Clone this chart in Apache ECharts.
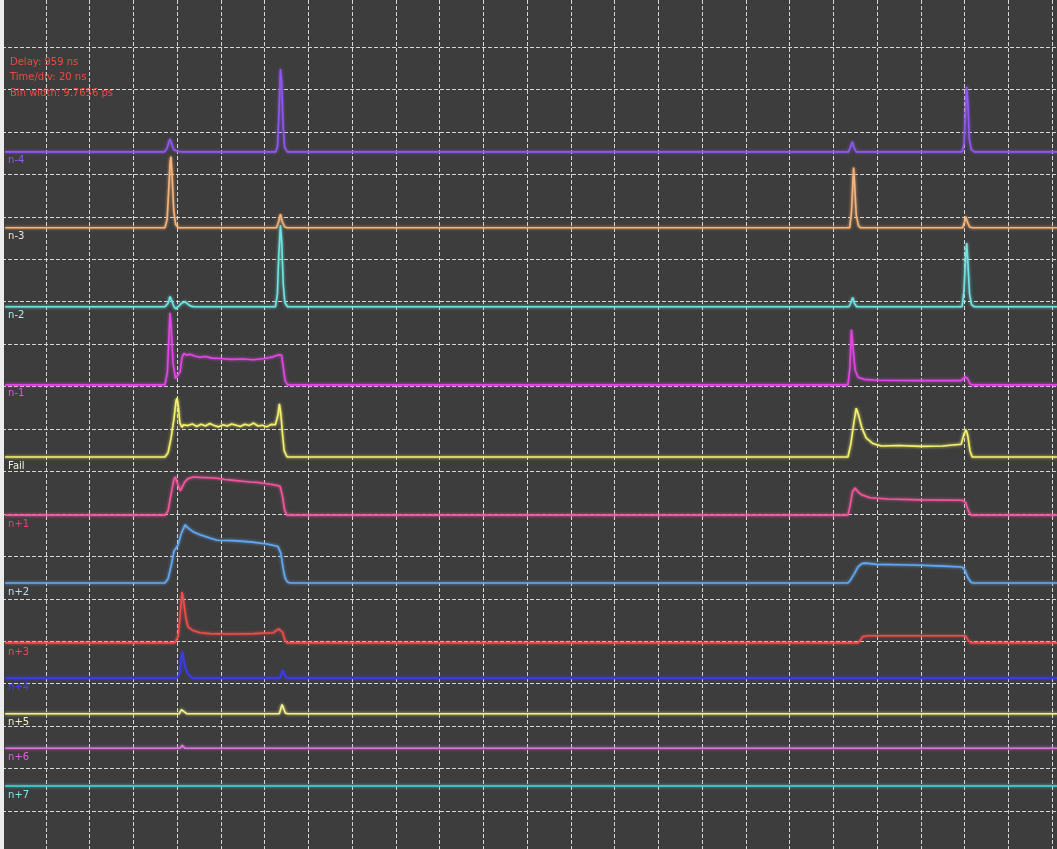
<!DOCTYPE html>
<html><head><meta charset="utf-8">
<script src="https://cdn.jsdelivr.net/npm/echarts@6/dist/echarts.min.js"></script>
<style>html,body{margin:0;padding:0;background:#fff}#c{width:1057px;height:849px}</style>
</head><body><div id="c"></div><script>
// ---- data (time in ns, amplitude in divisions above each channel's baseline) ----
const channelNames   = ['n-4','n-3','n-2','n-1','Fail','n+1','n+2','n+3','n+4','n+5','n+6','n+7'];
const channelOffsets = [15.53, 13.74, 11.88, 10.04, 8.34, 6.97, 5.37, 3.96, 3.13, 2.29, 1.48, 0.59];
const channelColors  = ['#9057f0','#f7b277','#6fe3e0','#e245e6','#f2f06e','#f2559e','#62a8f2','#f24b4b','#3b3bf0','#f2f08a','#e072e6','#45d6d6'];
const labelColors    = ['#8b5fe0','#f2e2d2','#a8eeee','#e055e0','#f2f2e4','#e2457a','#c4dcf2','#e25252','#4444e6','#f2f2c4','#d866d8','#88e4e4'];
const infoLines = ['Delay: 959 ns', 'Time/div: 20 ns', 'Bin width: 9.7656 ps'];
const timeStart = -18.6, timeEnd = 462.3;

const shapeN4 = [[-18.6,0],[54.3,0],[55.4,0.08],[56.2,0.22],[56.8,0.3],[57.5,0.2],[58.5,0.05],[59.8,0.02],[61.5,0],
  [105.2,0],[106.0,0.15],[106.6,0.9],[107.3,1.95],[107.9,1.6],[108.5,0.6],[109.2,0.1],[110.5,0],
  [367.0,0],[367.9,0.12],[368.7,0.24],[369.5,0.1],[370.5,0],
  [419.0,0],[419.8,0.2],[420.4,0.9],[421.0,1.53],[421.6,1.1],[422.2,0.3],[423.1,0.05],[424.5,0],[timeEnd,0]];
const shapeN3 = [[-18.6,0],[54.5,0],[55.5,0.2],[56.2,0.9],[56.8,1.5],[57.2,1.68],[57.8,1.2],[58.5,0.4],[59.4,0.08],[60.5,0],
  [105.5,0],[106.5,0.15],[107.3,0.32],[108.1,0.15],[109.2,0.02],[110.3,0],
  [367.5,0],[368.3,0.35],[368.9,1.0],[369.3,1.42],[369.8,1.0],[370.5,0.3],[371.5,0.05],[372.5,0],
  [419.2,0],[420.0,0.14],[420.6,0.26],[421.3,0.14],[422.3,0.02],[423.5,0],[timeEnd,0]];
const shapeN2 = [[-18.6,0],[54.5,0],[55.9,0.08],[56.8,0.24],[57.6,0.15],[58.6,0.0],[59.5,-0.05],[60.5,0.0],[62.0,0.08],[63.7,0.12],[65.0,0.06],[66.5,0.01],[68.0,0],
  [105.0,0],[105.9,0.3],[106.5,1.2],[107.3,1.92],[107.9,1.5],[108.6,0.5],[109.3,0.1],[110.5,0],
  [367.2,0],[368.1,0.1],[368.9,0.22],[369.7,0.08],[370.7,0],
  [418.9,0],[419.8,0.4],[420.4,1.1],[421.0,1.5],[421.6,1.0],[422.3,0.3],[423.2,0.05],[424.5,0],[timeEnd,0]];
const shapeN1 = [[-18.6,0],[54.5,0],[55.6,0.3],[56.2,1.0],[56.8,1.7],[57.4,1.3],[58.2,0.5],[59.3,0.15],[60.2,0.12],[61.4,0.3],[62.3,0.65],[63.2,0.74],
  [64.5,0.70],[66.0,0.72],[68.0,0.68],[70.5,0.65],[73.0,0.67],[76.0,0.63],[80.0,0.62],[85.0,0.60],[90.0,0.61],[95.0,0.59],[100.0,0.62],[104.0,0.66],[106.5,0.71],[107.8,0.70],
  [108.6,0.4],[109.4,0.1],[110.5,0],
  [366.7,0],[367.6,0.4],[368.3,1.3],[369.0,0.9],[370.0,0.35],[371.3,0.18],[374.0,0.13],[380.0,0.11],[400.0,0.1],[418.5,0.1],[420.2,0.19],[421.4,0.15],[422.5,0.02],[423.5,0],[timeEnd,0]];
const shapeFail = [[-18.6,0],[54.5,0],[55.9,0.1],[57.3,0.45],[58.6,0.9],[59.5,1.3],[60.0,1.39],[60.6,1.2],[61.3,0.8],[62.3,0.7],
  [63.0,0.76],[65.0,0.74],[67.0,0.78],[69.0,0.72],[71.0,0.77],[73.0,0.73],[75.0,0.79],[77.0,0.74],[79.0,0.71],[81.0,0.76],[83.0,0.73],
  [85.0,0.78],[87.0,0.75],[89.0,0.72],[91.0,0.77],[93.0,0.74],[95.0,0.80],[97.0,0.73],[99.0,0.75],[101.0,0.71],[103.0,0.77],[105.0,0.76],
  [106.2,1.0],[106.8,1.25],[107.5,1.0],[108.3,0.5],[109.0,0.15],[110.3,0],
  [366.7,0],[368.0,0.3],[369.4,0.8],[370.5,1.15],[371.5,1.0],[373.0,0.7],[375.0,0.45],[378.0,0.32],[382.0,0.26],[390.0,0.27],[400.0,0.25],[410.0,0.26],
  [418.5,0.3],[419.8,0.55],[420.7,0.64],[421.5,0.5],[422.5,0.15],[423.5,0],[timeEnd,0]];
const shapeP1 = [[-18.6,0],[54.5,0],[55.9,0.1],[57.3,0.5],[58.6,0.85],[59.3,0.9],[60.2,0.75],[61.5,0.57],[62.3,0.6],[63.5,0.78],[65.0,0.86],[67.3,0.9],
  [70.5,0.89],[75.0,0.88],[78.3,0.87],[82.0,0.84],[86.0,0.82],[90.0,0.80],[93.4,0.78],[97.0,0.77],[101.0,0.74],[104.8,0.71],[107.1,0.68],[108.2,0.45],[109.2,0.12],[110.3,0],
  [366.7,0],[367.6,0.2],[368.8,0.55],[370.0,0.64],[371.3,0.55],[373.0,0.48],[376.8,0.41],[385.0,0.38],[400.0,0.36],[418.9,0.35],[420.5,0.3],[421.8,0.1],[423.0,0],[timeEnd,0]];
const shapeP2 = [[-18.6,0],[54.5,0],[55.9,0.1],[57.3,0.4],[58.6,0.75],[60.5,0.9],[61.8,1.15],[63.7,1.37],[65.0,1.3],[67.3,1.21],[70.5,1.14],[75.0,1.06],[78.3,1.01],
  [85.6,1.0],[93.4,0.97],[101.1,0.92],[104.8,0.88],[106.2,0.86],[107.5,0.7],[108.5,0.35],[109.4,0.12],[110.5,0.02],[112.0,0],
  [366.7,0],[367.6,0.05],[369.4,0.2],[371.3,0.38],[373.1,0.46],[374.5,0.47],[380.0,0.44],[390.0,0.43],[400.0,0.42],[410.0,0.40],[418.9,0.38],[420.2,0.3],[421.6,0.12],[423.0,0.02],[424.0,0],[timeEnd,0]];
const shapeP3 = [[-18.6,0],[59.0,0],[60.5,0.15],[61.5,0.7],[62.3,1.2],[63.0,1.0],[64.0,0.6],[65.0,0.38],[67.0,0.3],[70.5,0.24],[75.0,0.22],[85.0,0.21],[95.0,0.22],[104.0,0.24],
  [106.5,0.33],[107.4,0.35],[108.3,0.25],[109.2,0.08],[110.3,0],
  [371.5,0],[373.5,0.15],[376.0,0.17],[400.0,0.17],[420.5,0.17],[421.8,0.05],[423.0,0],[timeEnd,0]];
const shapeP4 = [[-18.6,0],[60.0,0],[61.2,0.1],[61.8,0.4],[62.4,0.63],[63.0,0.45],[64.0,0.2],[65.5,0.07],[67.0,0],[107.0,0],[107.8,0.12],[108.3,0.19],[109.0,0.1],[110.0,0],[timeEnd,0]];
const shapeP5 = [[-18.6,0],[61.0,0],[62.0,0.1],[62.4,0.12],[63.2,0.05],[64.5,0],[106.8,0],[107.6,0.15],[108.0,0.22],[108.6,0.15],[109.5,0.02],[110.5,0],[timeEnd,0]];
const shapeP6 = [[-18.6,0],[61.5,0],[62.4,0.07],[63.5,0],[timeEnd,0]];
const shapeP7 = [[-18.6,0],[timeEnd,0]];
const channelShapes = [shapeN4, shapeN3, shapeN2, shapeN1, shapeFail, shapeP1, shapeP2, shapeP3, shapeP4, shapeP5, shapeP6, shapeP7];

// ---- chart ----
const chart = echarts.init(document.getElementById('c'), null, {renderer: 'canvas'});
const gridLine = {show: true, lineStyle: {color: '#d6d6d6', width: 1, type: [4, 2]}};
const series = channelShapes.map((shape, i) => ({
  type: 'line', name: channelNames[i], xAxisIndex: 1, yAxisIndex: 1,
  showSymbol: false, symbol: 'none', clip: false, animation: false,
  lineStyle: {color: channelColors[i], width: 1.6, shadowColor: channelColors[i], shadowBlur: 3},
  data: shape.map(p => [p[0], channelOffsets[i] + p[1]])
}));
chart.setOption({
  backgroundColor: '#3d3d3d',
  animation: false,
  grid: [
    {left: 2, right: 5, top: 0, bottom: 0},
    {left: 2, right: 0, top: 47, bottom: 38}
  ],
  xAxis: [
    {type: 'value', gridIndex: 0, min: -20, max: 460, interval: 20,
     axisLine: {show: false}, axisTick: {show: false}, axisLabel: {show: false}, splitLine: gridLine},
    {type: 'value', gridIndex: 1, min: -20, max: 462.2857, show: false}
  ],
  yAxis: [
    {type: 'value', gridIndex: 0, min: 0, max: 1, show: false},
    {type: 'value', gridIndex: 1, min: 0, max: 18, interval: 1,
     axisLine: {show: false}, axisTick: {show: false}, axisLabel: {show: false}, splitLine: gridLine}
  ],
  series: series
});
const graphics = [];
infoLines.forEach((t, i) => graphics.push({type: 'text', left: 10, top: 57 + i * 15.5, z: 10,
  style: {text: t, fill: '#ee4a40', font: '10px "DejaVu Sans", sans-serif'}}));
channelNames.forEach((n, i) => {
  const p = chart.convertToPixel({xAxisIndex: 1, yAxisIndex: 1}, [timeStart, channelOffsets[i]]);
  graphics.push({type: 'text', x: p[0] + 3, y: p[1] + 4, z: 10,
    style: {text: n, fill: labelColors[i], font: '10px "DejaVu Sans", sans-serif'}});
});
graphics.push({type: 'rect', shape: {x: 0, y: 0, width: 4, height: 849}, style: {fill: '#ececec'}, z: 20});
chart.setOption({graphic: graphics});
</script></body></html>
